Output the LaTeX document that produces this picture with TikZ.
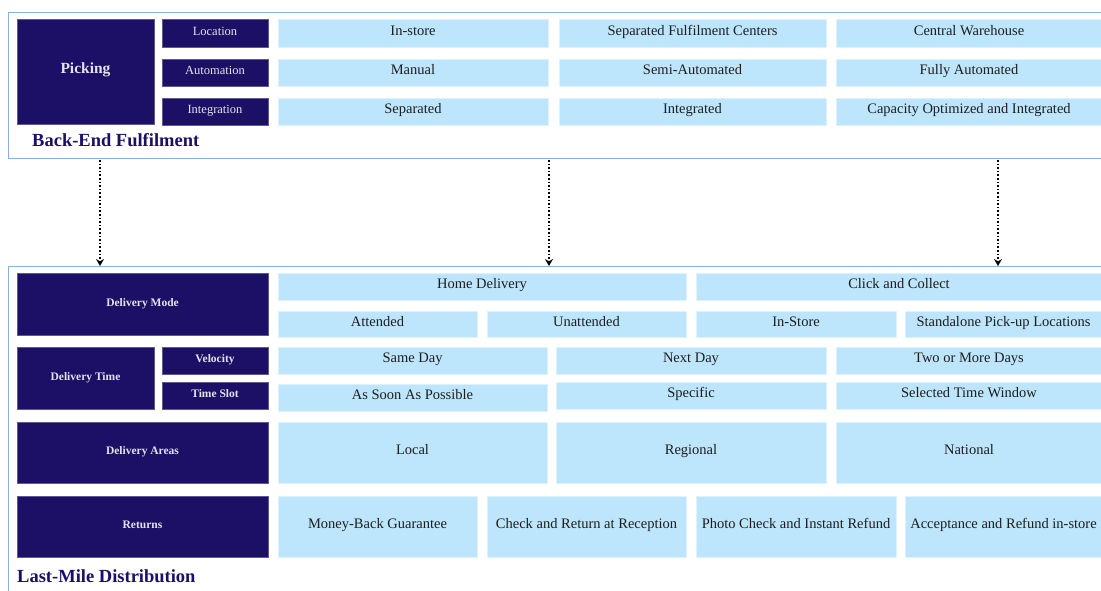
\documentclass[tikz,border=0pt]{standalone}
\usepackage{fontspec}
\setmainfont{LiberationSerif}[Extension=.ttf,UprightFont=*-Regular,BoldFont=*-Bold,ItalicFont=*-Italic,BoldItalicFont=*-BoldItalic]
\usetikzlibrary{arrows.meta}

\definecolor{navy}{HTML}{1C0F66}
\definecolor{sky}{HTML}{BDE5FC}
\definecolor{rim}{HTML}{8CADE0}
\definecolor{ink}{HTML}{1E1E1E}

\tikzset{
    cell/.style={anchor=north west,inner sep=0pt,outer sep=0pt,text height=0.68em,text depth=0.2em},
    dark/.style={cell,fill=navy,draw=navy!70!white,line width=0.6pt,text=white!88!navy,
        font=\fontsize{11.5}{13}\selectfont\bfseries},
    darkthin/.style={dark,font=\fontsize{12.5}{14}\selectfont},
    lite/.style={cell,fill=sky,draw=sky!50!white,line width=0.6pt,text=ink,
        font=\fontsize{14.5}{16}\selectfont},
    title/.style={anchor=base west,inner sep=0pt,text=navy,font=\fontsize{18.5}{21}\selectfont\bfseries},
    frame/.style={draw=rim,line width=0.9pt},
    link/.style={dotted,line width=1.6pt,-{Stealth[length=7pt,width=8pt]}}
}

\begin{document}
\begin{tikzpicture}
    [x=1pt,y=-1pt]
    \clip (0,0) rectangle (1101,590);
    \fill[white] (0,0) rectangle (1101,590);

    %Frames
    \draw[frame] (8,12) rectangle (1106,158);
    \draw[frame] (8,266) rectangle (1106,600);

    %Back-End Fulfilment
    \node[dark,minimum width=137pt,minimum height=105pt,font=\fontsize{15.5}{18}\selectfont\bfseries] (pick) at (17,19) {Picking};
    \node[darkthin,minimum width=106pt,minimum height=28pt] (loc) at (162,19) {Location};
    \node[darkthin,minimum width=106pt,minimum height=27pt] (auto) at (162,59) {Automation};
    \node[darkthin,minimum width=106pt,minimum height=27pt] (integ) at (162,98) {Integration};

    \node[lite,minimum width=270pt,minimum height=28pt] (instore) at (278,19) {In-store};
    \node[lite,minimum width=267pt,minimum height=28pt] (sepfc) at (559,19) {Separated Fulfilment Centers};
    \node[lite,minimum width=266pt,minimum height=28pt] (central) at (836,19) {Central Warehouse};
    \node[lite,minimum width=270pt,minimum height=27pt] (manual) at (278,59) {Manual};
    \node[lite,minimum width=267pt,minimum height=27pt] (semi) at (559,59) {Semi-Automated};
    \node[lite,minimum width=266pt,minimum height=27pt] (fully) at (836,59) {Fully Automated};
    \node[lite,minimum width=270pt,minimum height=27pt] (separ) at (278,98) {Separated};
    \node[lite,minimum width=267pt,minimum height=27pt] (integd) at (559,98) {Integrated};
    \node[lite,minimum width=266pt,minimum height=27pt] (capa) at (836,98) {Capacity Optimized and Integrated};

    \node[title] (backend) at (32,146) {Back-End Fulfilment};

    %Last-Mile Distribution
    \node[dark,minimum width=251pt,minimum height=62pt] (dmode) at (17,273) {Delivery Mode};
    \node[dark,minimum width=137pt,minimum height=62pt] (dtime) at (17,347) {Delivery Time};
    \node[dark,minimum width=106pt,minimum height=27pt] (veloc) at (162,347) {Velocity};
    \node[dark,minimum width=106pt,minimum height=27pt] (tslot) at (162,382) {Time Slot};
    \node[dark,minimum width=251pt,minimum height=61pt] (dareas) at (17,422) {Delivery Areas};
    \node[dark,minimum width=251pt,minimum height=61pt] (returns) at (17,496) {Returns};

    \node[lite,minimum width=408pt,minimum height=27pt] (home) at (278,273) {Home Delivery};
    \node[lite,minimum width=406pt,minimum height=27pt] (click) at (696,273) {Click and Collect};
    \node[lite,minimum width=199pt,minimum height=26pt] (attend) at (278,311) {Attended};
    \node[lite,minimum width=199pt,minimum height=26pt] (unatt) at (487,311) {Unattended};
    \node[lite,minimum width=200pt,minimum height=26pt] (store) at (696,311) {In-Store};
    \node[lite,minimum width=197pt,minimum height=26pt] (pickup) at (905,311) {Standalone Pick-up Locations};

    \node[lite,minimum width=269pt,minimum height=27pt] (same) at (278,347) {Same Day};
    \node[lite,minimum width=270pt,minimum height=27pt] (next) at (556,347) {Next Day};
    \node[lite,minimum width=266pt,minimum height=27pt] (more) at (836,347) {Two or More Days};
    \node[lite,minimum width=269pt,minimum height=27pt] (asap) at (278,384) {As Soon As Possible};
    \node[lite,minimum width=270pt,minimum height=27pt] (specif) at (556,382) {Specific};
    \node[lite,minimum width=266pt,minimum height=27pt] (window) at (836,382) {Selected Time Window};

    \node[lite,minimum width=269pt,minimum height=61pt] (local) at (278,422) {Local};
    \node[lite,minimum width=270pt,minimum height=61pt] (region) at (556,422) {Regional};
    \node[lite,minimum width=266pt,minimum height=61pt] (nation) at (836,422) {National};

    \node[lite,minimum width=199pt,minimum height=61pt] (money) at (278,496) {Money-Back Guarantee};
    \node[lite,minimum width=199pt,minimum height=61pt] (check) at (487,496) {Check and Return at Reception};
    \node[lite,minimum width=200pt,minimum height=61pt] (photo) at (696,496) {Photo Check and Instant Refund};
    \node[lite,minimum width=197pt,minimum height=61pt] (accept) at (905,496) {Acceptance and Refund in-store};

    \node[title] (lastmile) at (17,582) {Last-Mile Distribution};

    %Edges
    \coordinate (up1) at (100,160);
    \coordinate (up2) at (549,160);
    \coordinate (up3) at (998,160);
    \coordinate (dn1) at (100,266);
    \coordinate (dn2) at (549,266);
    \coordinate (dn3) at (998,266);
    \draw[link] (up1) -- (dn1);
    \draw[link] (up2) -- (dn2);
    \draw[link] (up3) -- (dn3);

\end{tikzpicture}
\end{document}
